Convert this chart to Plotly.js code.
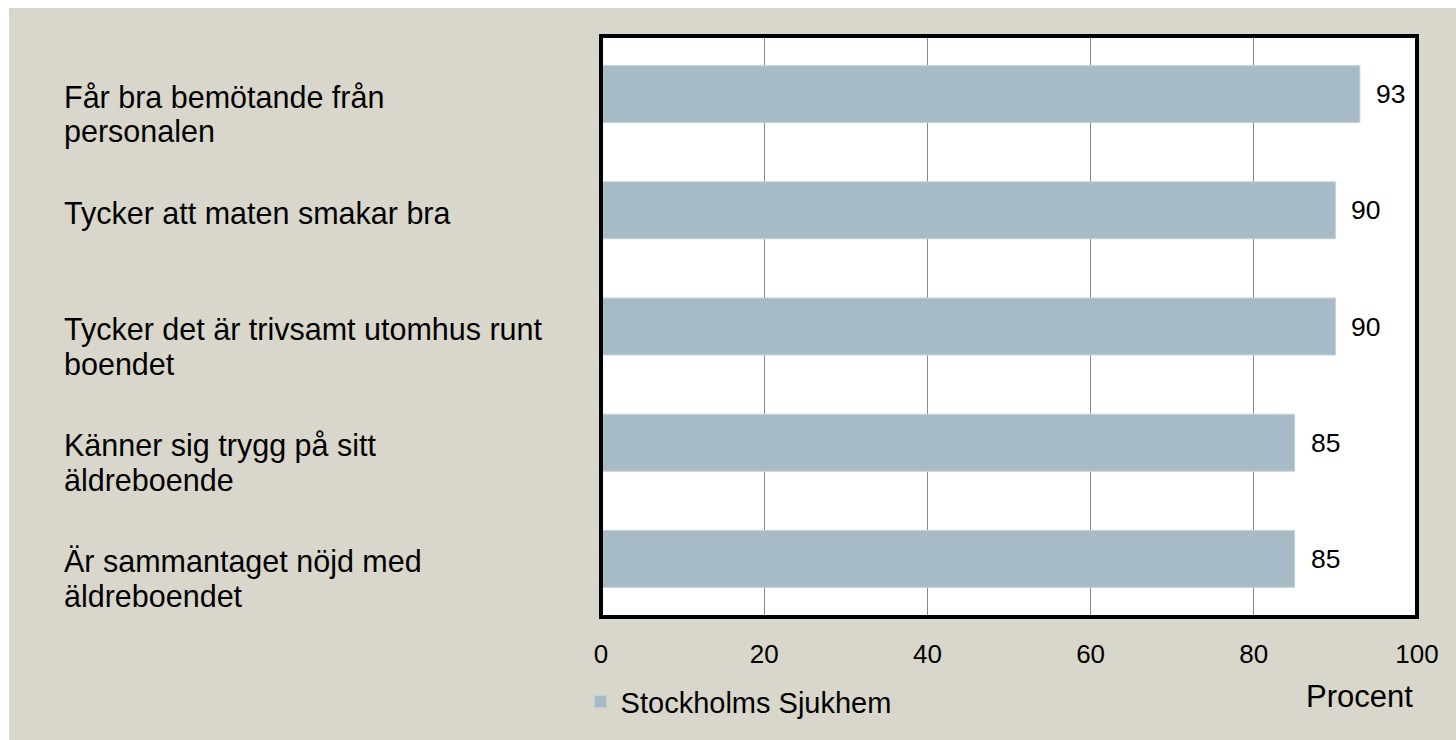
<!DOCTYPE html>
<html>
<head>
<meta charset="utf-8">
<script src="https://cdn.plot.ly/plotly-3.0.1.min.js"></script>
<style>
  html, body { margin: 0; padding: 0; background: #ffffff; width: 1456px; height: 740px; overflow: hidden; }
  #chart { position: absolute; left: 9px; top: 8px; width: 1447px; height: 732px; }
</style>
</head>
<body>
<div id="chart"></div>
<script>
// ---- data ----
const categories = [
  'Får bra bemötande från<br>personalen',
  'Tycker att maten smakar bra',
  'Tycker det är trivsamt utomhus runt<br>boendet',
  'Känner sig trygg på sitt<br>äldreboende',
  'Är sammantaget nöjd med<br>äldreboendet'
];
const values = [93, 90, 90, 85, 85];
const seriesName = 'Stockholms Sjukhem';
const tickValues = [0, 20, 40, 60, 80, 100];
const xAxisLabel = 'Procent';

// ---- styles ----
const FONT = '"Liberation Sans", Arial, sans-serif';
const BAR_COLOR = '#a7bbc6';
const BG = '#d9d7cb';

const trace = {
  type: 'bar',
  orientation: 'h',
  x: values,
  y: categories,
  name: seriesName,
  marker: { color: BAR_COLOR, line: { color: '#c3d1d9', width: 1 } },
  hoverinfo: 'x+y',
  showlegend: true
};

const annotations = [];
// category labels (left aligned, one annotation per line)
categories.forEach((cat) => {
  cat.split('<br>').forEach((line, k) => {
    annotations.push({
      xref: 'paper', yref: 'y', x: -0.661, y: cat,
      text: line, showarrow: false,
      xanchor: 'left', yanchor: 'middle',
      yshift: -3 - 34 * k,
      font: { family: FONT, size: 30.5, color: '#000000' }
    });
  });
});
// value labels
values.forEach((v, i) => {
  annotations.push({
    xref: 'x', yref: 'y', x: v, y: categories[i],
    text: String(v), showarrow: false,
    xanchor: 'left', yanchor: 'middle', xshift: 14,
    font: { family: FONT, size: 26.5, color: '#000000' }
  });
});
// axis unit label
annotations.push({
  xref: 'paper', yref: 'paper', x: 0.930, y: -0.136,
  text: xAxisLabel, showarrow: false,
  xanchor: 'center', yanchor: 'middle',
  font: { family: FONT, size: 31, color: '#000000' }
});

const layout = {
  width: 1447, height: 732,
  margin: { l: 592, r: 39, t: 28, b: 123, pad: 0 },
  paper_bgcolor: BG,
  plot_bgcolor: '#ffffff',
  bargap: 0.51,
  xaxis: {
    range: [0, 100],
    tickvals: tickValues,
    ticktext: tickValues.map(String),
    showgrid: true, gridcolor: '#8a8a8a', gridwidth: 1,
    zeroline: false, showline: false,
    ticks: '', ticklabelstandoff: 19,
    tickfont: { family: FONT, size: 26, color: '#000000' },
    fixedrange: true
  },
  yaxis: {
    type: 'category',
    autorange: 'reversed',
    showticklabels: false, showgrid: false, zeroline: false, showline: false,
    ticks: '', fixedrange: true
  },
  showlegend: true,
  legend: {
    orientation: 'h',
    x: -0.025, xanchor: 'left',
    y: -0.146, yanchor: 'middle',
    bgcolor: 'rgba(0,0,0,0)',
    itemwidth: 30,
    font: { family: FONT, size: 29, color: '#000000' }
  },
  shapes: [{
    type: 'rect', xref: 'paper', yref: 'paper',
    x0: 0, x1: 1, y0: 0, y1: 1,
    line: { color: '#000000', width: 4 },
    layer: 'above'
  }],
  annotations: annotations
};

Plotly.newPlot('chart', [trace], layout, { displayModeBar: false, staticPlot: true });
</script>
</body>
</html>
